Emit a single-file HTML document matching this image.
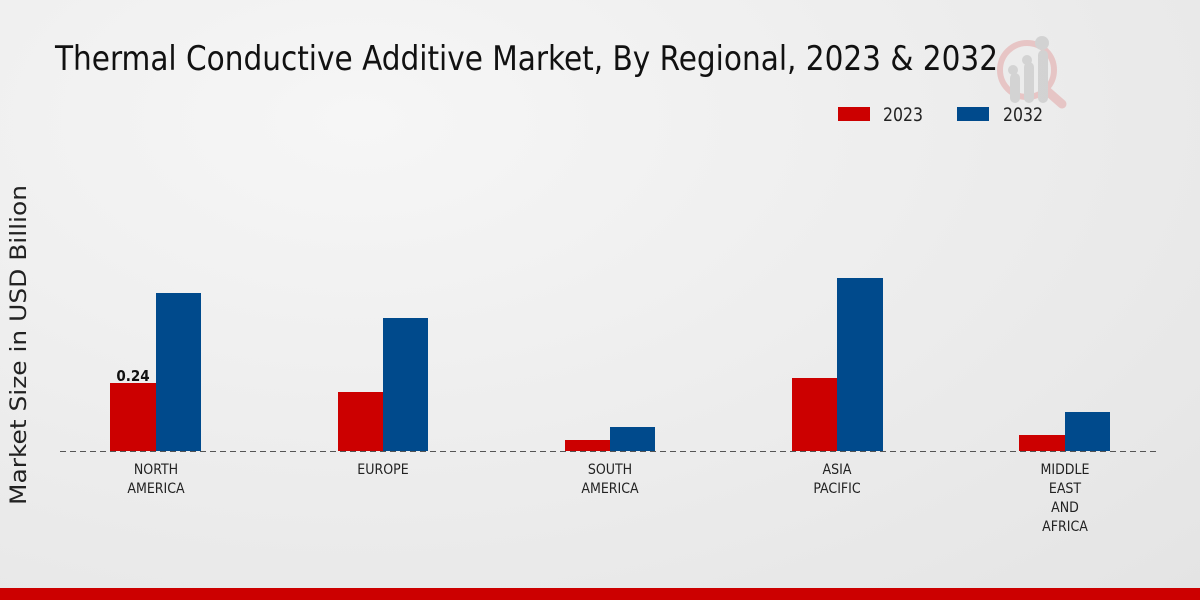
<!DOCTYPE html>
<html><head><meta charset="utf-8"><style>
body{margin:0;width:1200px;height:600px;overflow:hidden;background:radial-gradient(ellipse at 30% 20%,#f6f6f6,#e4e4e4);font-family:"DejaVu Sans Condensed","DejaVu Sans","Liberation Sans",sans-serif;}
</style></head><body>
<svg width="1200" height="600" xmlns="http://www.w3.org/2000/svg" style="position:absolute;left:0;top:0">
<g opacity="0.5">
<circle cx="1027" cy="70" r="27" fill="none" stroke="#e3a0a0" stroke-width="6"/>
<line x1="1046" y1="90" x2="1062" y2="104" stroke="#e3a0a0" stroke-width="9" stroke-linecap="round"/>
<rect x="1010" y="73" width="10" height="30" rx="5" fill="#bbb"/>
<rect x="1024" y="62" width="10" height="41" rx="5" fill="#bbb"/>
<rect x="1038" y="50" width="10" height="53" rx="5" fill="#bbb"/>
<circle cx="1013" cy="70" r="5" fill="#bbb"/><circle cx="1027" cy="60" r="5" fill="#bbb"/><circle cx="1042" cy="43" r="7" fill="#bbb"/>
</g>
<text x="55" y="70" font-size="34" fill="#111" textLength="943" lengthAdjust="spacingAndGlyphs">Thermal Conductive Additive Market, By Regional, 2023 &amp; 2032</text>
<rect x="838" y="107" width="32" height="14" fill="#cc0000"/>
<text x="883" y="121" font-size="19" fill="#222" textLength="40" lengthAdjust="spacingAndGlyphs">2023</text>
<rect x="957" y="107" width="32" height="14" fill="#004a8c"/>
<text x="1003" y="121" font-size="19" fill="#222" textLength="40" lengthAdjust="spacingAndGlyphs">2032</text>
<text transform="translate(26,345) rotate(-90)" font-family="DejaVu Sans, sans-serif" font-size="22" fill="#222" text-anchor="middle" textLength="320" lengthAdjust="spacingAndGlyphs">Market Size in USD Billion</text>
<g fill="#cc0000">
<rect x="110" y="383" width="46" height="68"/><rect x="338" y="392" width="45" height="59"/><rect x="565" y="440" width="45" height="11"/><rect x="792" y="378" width="45" height="73"/><rect x="1019" y="435" width="46" height="16"/>
</g>
<g fill="#004a8c">
<rect x="156" y="293" width="45" height="158"/><rect x="383" y="318" width="45" height="133"/><rect x="610" y="427" width="45" height="24"/><rect x="837" y="278" width="46" height="173"/><rect x="1065" y="412" width="45" height="39"/>
</g>
<text x="133" y="381" font-size="15" font-weight="bold" text-anchor="middle" fill="#111">0.24</text>
<line x1="60" y1="451.5" x2="1158" y2="451.5" stroke="#555" stroke-width="1" stroke-dasharray="6,4"/>
<g font-size="14" fill="#222" text-anchor="middle">
<text x="156" y="474">NORTH</text><text x="156" y="493">AMERICA</text>
<text x="383" y="474">EUROPE</text>
<text x="610" y="474">SOUTH</text><text x="610" y="493">AMERICA</text>
<text x="837" y="474">ASIA</text><text x="837" y="493">PACIFIC</text>
<text x="1065" y="474">MIDDLE</text><text x="1065" y="493">EAST</text><text x="1065" y="512">AND</text><text x="1065" y="531">AFRICA</text>
</g>
<rect x="0" y="588" width="1200" height="12" fill="#cc0000"/>
</svg>
</body></html>
